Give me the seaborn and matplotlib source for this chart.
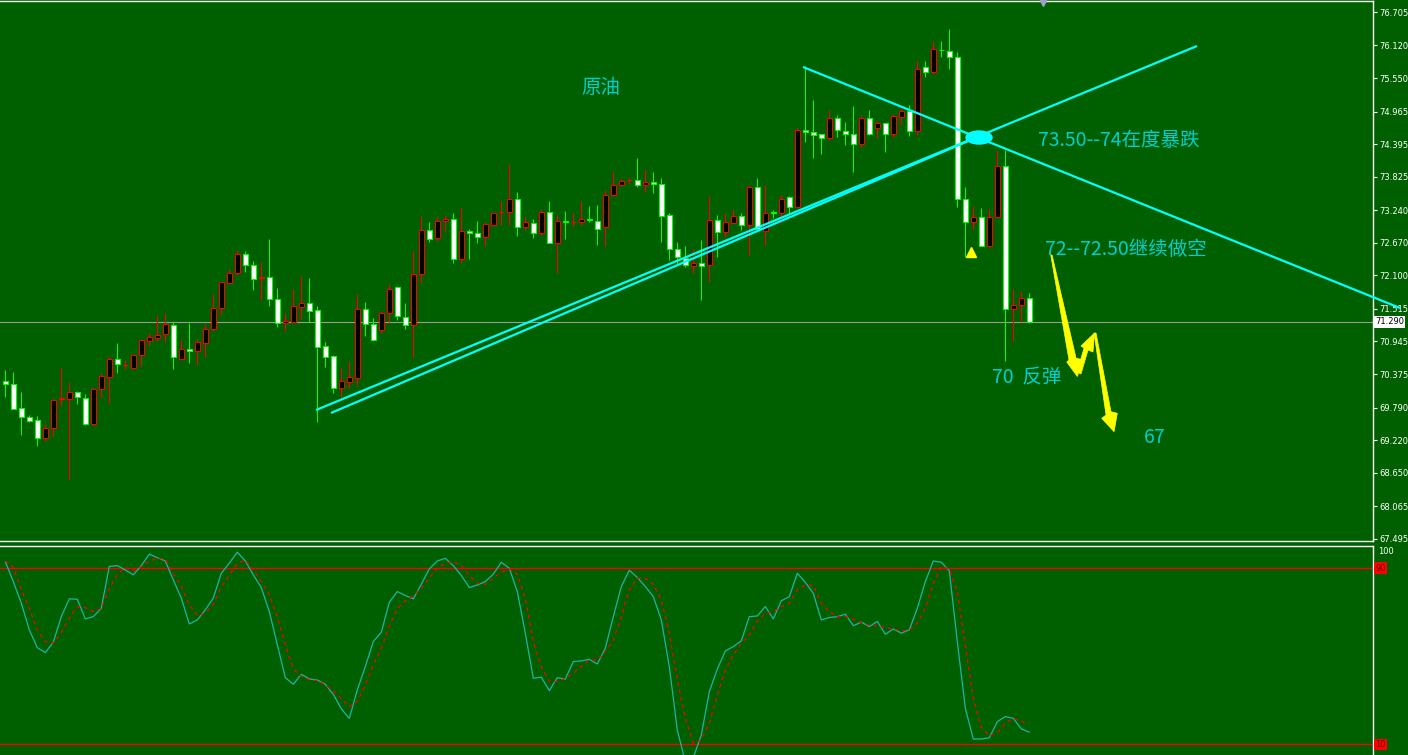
import numpy as np
import pandas as pd
import matplotlib
matplotlib.use("Agg")
import matplotlib.pyplot as plt
import seaborn as sns
from matplotlib.patches import Polygon, Ellipse

sns.set_theme(style="dark")
plt.rcParams["font.family"] = ["Noto Sans CJK SC", "DejaVu Sans"]
plt.rcParams["axes.unicode_minus"] = False

# ---------------- data ----------------
opens = [70.26, 70.21, 69.79, 69.62, 69.57, 69.25, 69.44, 69.94, 69.94, 70.06,
         69.95, 69.50, 70.11, 70.33, 70.64, 70.53, 70.49, 70.70, 70.96, 71.01,
         71.07, 71.23, 70.64, 70.81, 70.77, 70.92, 71.16, 71.53, 71.97, 72.15,
         72.47, 72.28, 72.06, 72.08, 71.68, 71.26, 71.29, 71.55, 71.62, 71.49,
         70.86, 70.69, 70.14, 70.24, 70.31, 71.51, 71.25, 71.14, 71.44, 71.89,
         71.38, 71.23, 72.12, 72.89, 72.75, 73.05, 73.08, 72.39, 72.87, 72.84,
         72.77, 72.99, 73.20, 73.20, 73.43, 72.95, 73.01, 72.84, 73.20, 72.67,
         73.06, 73.03, 73.04, 73.08, 73.06, 72.94, 73.50, 73.68, 73.76, 73.76,
         73.68, 73.73, 73.69, 73.15, 72.56, 72.40, 72.27, 72.32, 72.29, 73.07,
         72.86, 73.02, 73.14, 72.99, 73.64, 72.88, 73.20, 73.19, 73.47, 73.29,
         74.65, 74.61, 74.57, 74.51, 74.86, 74.63, 74.58, 74.39, 74.86, 74.67,
         74.76, 74.57, 74.87, 74.97, 74.63, 75.74, 75.66, 76.045, 76.03, 75.91,
         73.43, 73.03, 73.12, 72.62, 73.13, 74.02, 71.51, 71.58, 71.70]
highs = [70.45, 70.41, 70.06, 69.66, 69.64, 69.50, 69.95, 70.49, 70.24, 70.08,
         70.03, 70.13, 70.39, 70.69, 70.92, 70.62, 70.72, 70.98, 71.09, 71.40,
         71.45, 71.29, 70.99, 71.27, 70.98, 71.25, 71.78, 71.99, 72.22, 72.54,
         72.52, 72.35, 72.33, 72.74, 71.88, 71.44, 71.86, 72.09, 72.05, 71.57,
         70.94, 70.71, 70.50, 70.60, 71.78, 71.64, 71.36, 71.47, 71.95, 71.90,
         71.61, 72.53, 73.14, 73.03, 73.14, 73.15, 73.19, 73.29, 72.91, 73.05,
         73.04, 73.19, 73.40, 74.05, 73.56, 73.14, 73.08, 73.26, 73.40, 73.16,
         73.23, 73.19, 73.40, 73.31, 73.33, 73.59, 73.92, 73.78, 73.82, 74.16,
         73.94, 73.90, 73.80, 73.19, 72.68, 72.61, 72.56, 72.72, 73.49, 73.16,
         73.19, 73.26, 73.19, 73.68, 73.80, 73.68, 73.24, 73.51, 73.48, 74.69,
         75.76, 75.17, 74.58, 74.99, 74.90, 74.79, 75.06, 74.90, 75.00, 74.80,
         74.77, 74.93, 75.02, 75.08, 75.84, 75.84, 76.19, 76.20, 76.41, 76.00,
         73.64, 73.31, 73.27, 73.26, 74.29, 74.30, 71.87, 71.82, 71.79]
lows = [69.98, 69.76, 69.31, 69.53, 69.12, 69.21, 69.29, 69.82, 68.52, 69.86,
        69.49, 69.49, 69.98, 69.87, 70.40, 70.46, 70.48, 70.52, 70.87, 70.95,
        70.94, 70.46, 70.63, 70.57, 70.53, 70.68, 71.12, 71.41, 71.96, 72.11,
        72.16, 71.84, 71.67, 71.57, 71.19, 71.12, 71.26, 71.33, 71.29, 69.53,
        70.50, 70.05, 69.98, 70.13, 70.17, 71.04, 70.96, 71.10, 71.29, 71.32,
        71.16, 70.68, 71.96, 72.69, 72.71, 72.88, 72.32, 72.31, 72.39, 72.66,
        72.62, 72.98, 72.98, 72.98, 72.79, 72.89, 72.75, 72.81, 72.67, 72.14,
        72.74, 72.96, 72.98, 73.04, 72.63, 72.61, 73.48, 73.66, 73.71, 73.65,
        73.56, 73.54, 72.69, 72.37, 72.28, 72.24, 72.14, 71.67, 71.99, 72.43,
        72.78, 73.01, 72.89, 72.46, 72.89, 72.63, 73.10, 73.00, 73.16, 73.27,
        74.44, 74.15, 74.23, 74.47, 74.52, 74.38, 73.91, 74.35, 74.56, 74.51,
        74.26, 74.52, 74.73, 74.54, 74.55, 75.57, 75.63, 75.92, 75.71, 73.29,
        72.43, 72.92, 72.62, 72.59, 73.13, 70.61, 70.96, 71.28, 71.27]
closes = [70.21, 69.77, 69.63, 69.56, 69.26, 69.44, 69.93, 69.95, 70.06, 69.97,
          69.50, 70.11, 70.34, 70.64, 70.55, 70.54, 70.70, 70.97, 71.02, 71.05,
          71.25, 70.67, 70.81, 70.77, 70.93, 71.16, 71.53, 71.98, 72.14, 72.47,
          72.28, 72.04, 72.07, 71.68, 71.26, 71.30, 71.56, 71.61, 71.47, 70.84,
          70.68, 70.14, 70.25, 70.32, 71.51, 71.25, 70.97, 71.44, 71.87, 71.39,
          71.23, 72.12, 72.89, 72.74, 73.05, 73.08, 72.39, 72.87, 72.84, 72.77,
          73.00, 73.19, 73.21, 73.43, 72.95, 73.03, 72.84, 73.20, 72.67, 73.06,
          73.03, 73.04, 73.08, 73.07, 72.92, 73.50, 73.68, 73.75, 73.77, 73.68,
          73.73, 73.69, 73.14, 72.56, 72.43, 72.28, 72.32, 72.27, 73.07, 72.86,
          73.03, 73.14, 72.99, 73.64, 72.92, 73.19, 73.19, 73.44, 73.29, 74.65,
          74.61, 74.55, 74.50, 74.86, 74.64, 74.58, 74.39, 74.86, 74.57, 74.76,
          74.57, 74.89, 74.97, 74.63, 75.70, 75.65, 76.05, 76.035, 75.91, 73.43,
          73.03, 73.12, 72.62, 73.13, 74.02, 71.51, 71.58, 71.70, 71.29]

stoch_k = [93.0, 83.9, 74.1, 62.0, 53.9, 51.7, 56.4, 68.0, 76.1, 75.9,
           67.0, 68.0, 71.8, 90.8, 91.2, 89.2, 87.0, 91.2, 96.4, 94.8,
           93.3, 84.7, 76.4, 64.7, 66.5, 71.1, 76.4, 87.7, 92.3, 97.3,
           93.3, 87.0, 81.2, 70.3, 55.2, 40.3, 37.3, 41.8, 39.7, 39.2,
           37.3, 32.7, 26.1, 21.8, 34.7, 45.3, 56.7, 60.9, 74.5, 79.4,
           77.6, 76.1, 82.7, 89.7, 93.3, 94.5, 91.2, 86.7, 81.2, 82.4,
           83.9, 87.3, 92.7, 90.0, 79.4, 60.5, 40.0, 40.5, 34.4, 40.3,
           39.6, 47.6, 47.9, 48.6, 46.5, 53.6, 68.0, 81.7, 89.1, 85.8,
           81.7, 77.1, 66.5, 45.3, 16.5, 2.0, 4.0, 14.2, 33.9, 44.2,
           52.4, 54.4, 57.0, 68.0, 68.3, 72.6, 67.0, 75.2, 77.1, 87.7,
           83.6, 78.6, 66.5, 67.6, 68.0, 69.1, 63.9, 65.5, 63.5, 65.8,
           60.0, 62.4, 60.5, 62.0, 71.8, 83.9, 93.3, 92.7, 88.8, 56.7,
           26.4, 12.4, 12.4, 13.0, 20.3, 22.6, 21.8, 17.0, 15.5]
stoch_d = [93.3, 90.5, 80.2, 71.8, 62.0, 56.7, 55.9, 60.9, 67.3, 72.6,
           72.1, 70.3, 71.8, 80.9, 87.0, 90.3, 88.8, 90.6, 93.3, 94.5,
           94.2, 87.7, 81.7, 73.3, 68.5, 69.5, 73.6, 81.7, 86.7, 92.3,
           93.8, 89.2, 83.9, 77.9, 68.0, 55.2, 44.2, 40.8, 39.4, 38.9,
           37.0, 34.2, 30.9, 27.1, 29.4, 37.0, 46.1, 53.6, 63.5, 71.8,
           75.2, 77.6, 80.9, 85.5, 90.0, 92.3, 93.0, 91.2, 86.7, 83.2,
           82.7, 85.5, 88.2, 89.7, 87.3, 76.4, 56.7, 45.3, 38.5, 38.5,
           40.0, 42.3, 45.3, 48.3, 48.3, 52.1, 57.4, 68.0, 80.2, 85.5,
           85.5, 82.7, 75.6, 60.5, 39.2, 21.8, 10.5, 12.0, 19.6, 32.4,
           43.8, 50.6, 55.9, 59.7, 66.1, 69.5, 70.3, 72.6, 74.1, 80.2,
           82.4, 82.1, 74.1, 70.3, 68.0, 68.0, 66.8, 65.3, 64.2, 63.8,
           63.0, 62.4, 61.5, 62.0, 65.0, 71.8, 83.2, 90.8, 89.7, 79.4,
           55.2, 30.9, 17.6, 13.9, 15.3, 19.6, 21.8, 20.3, 19.5]

price_ticks = [76.705, 76.120, 75.550, 74.965, 74.395, 73.825, 73.240, 72.670,
               72.100, 71.515, 70.945, 70.375, 69.790, 69.220, 68.650, 68.065, 67.495]
last_price = 71.29
stoch_levels = [90, 10]

# annotation geometry in (bar index, price)
trend_a = ([38.84, 148.96], [69.747, 76.111])
trend_b = ([40.71, 121.84], [69.695, 74.537])
trend_c = ([99.71, 174.34], [75.744, 71.530])
arrow1 = [(130.68, 72.457), (130.84, 72.457), (133.84, 70.656), (134.71, 70.621),
          (134.00, 70.333), (132.68, 70.586), (132.96, 70.621)]
arrow2 = [(133.96, 70.412), (134.46, 70.377), (135.34, 70.796), (135.96, 70.761),
          (136.15, 71.093), (134.46, 70.866), (134.84, 70.831)]
arrow3 = [(136.09, 71.093), (136.34, 71.093), (138.21, 69.717), (139.00, 69.690),
          (138.59, 69.368), (137.05, 69.602), (137.59, 69.660)]
labels = [("原油", 74.46, 75.377, "center"),
          ("73.50--74在度暴跌", 129.1, 74.467, "left"),
          ("72--72.50继续做空", 129.96, 72.562, "left"),
          ("70  反弹", 123.3, 70.307, "left"),
          ("67", 142.3, 69.275, "left")]

# ---------------- figure ----------------
BG = "#006000"
W, H = 1408, 755
fig = plt.figure(figsize=(W / 100, H / 100), dpi=100, facecolor=BG)
axw = 1373 / W
ax = fig.add_axes([0, 1 - 541 / H, axw, 540 / H])
ax2 = fig.add_axes([0, 0, axw, 209 / H])

xlim = (-0.6625, 170.96)
for a in (ax, ax2):
    a.set_facecolor(BG)
    a.grid(False)
    a.set_xlim(*xlim)
    a.set_xticks([])
    for s in ("left",):
        a.spines[s].set_visible(False)
    a.spines["right"].set_color("white")
    a.spines["right"].set_linewidth(1.0)

ax.spines["top"].set_color("white")
ax.spines["bottom"].set_color("white")
ax.spines["top"].set_linewidth(1.0)
ax.spines["bottom"].set_linewidth(1.0)
ax2.spines["top"].set_color("white")
ax2.spines["top"].set_linewidth(1.0)
ax2.spines["bottom"].set_visible(False)

ax.set_ylim(67.457, 76.8975)
ax2.set_ylim(5.14, 100.1)

# candles
df = pd.DataFrame({"o": opens, "h": highs, "l": lows, "c": closes})
df["bar"] = np.arange(len(df))
up = df["c"] >= df["o"]
bh = np.maximum((df["c"] - df["o"]).abs(), 0.004)
bb = np.minimum(df["o"], df["c"])
ax.vlines(df["bar"][up], df["l"][up], df["h"][up], color="#FF0000", lw=0.75, zorder=2)
ax.vlines(df["bar"][~up], df["l"][~up], df["h"][~up], color="#00FF00", lw=0.75, zorder=2)
ax.bar(df["bar"][up], bh[up], bottom=bb[up], width=0.6, color="black",
       edgecolor="#FF0000", linewidth=0.75, zorder=3)
ax.bar(df["bar"][~up], bh[~up], bottom=bb[~up], width=0.6, color="white",
       edgecolor="#00FF00", linewidth=0.75, zorder=3)

# last price line
ax.axhline(last_price, color="#9a9a9a", lw=0.8, zorder=1)

# trend lines
for tl in (trend_a, trend_b):
    ax.plot(tl[0], tl[1], color="#00FFFF", lw=1.6, zorder=4, solid_capstyle="butt")
ax.plot(trend_c[0], trend_c[1], color="#00FFFF", lw=1.6, zorder=4,
        solid_capstyle="butt", clip_on=False)
ax.add_patch(Ellipse((121.71, 74.511), 3.25, 0.227, color="#00FFFF", zorder=5))

# yellow marks
ax.plot([120.71], [72.509], marker="^", color="#FFFF00", ms=7, zorder=5, ls="none")
for poly in (arrow1, arrow2, arrow3):
    ax.add_patch(Polygon(poly, closed=True, facecolor="#FFFF00", edgecolor="#FFFF00",
                         lw=0.5, zorder=6))
ax.plot([129.7], [76.86], marker="v", color="#A0A0C8", ms=5, clip_on=False, ls="none", zorder=7)

# texts
for txt, bx, py, ha in labels:
    ax.text(bx, py, txt, color="#00CED1", fontsize=14, ha=ha, va="center", zorder=8,
            family=["Noto Sans CJK SC", "DejaVu Sans"])

# right price axis
ax.yaxis.tick_right()
ax.set_yticks(price_ticks)
ax.set_yticklabels([f"{t:.3f}" for t in price_ticks])
ax.tick_params(axis="y", colors="white", labelsize=6, length=3, width=0.8, pad=1.5,
               direction="out", labelcolor="white")
for lab in ax.get_yticklabels():
    lab.set_family("DejaVu Sans")
ax.text(1.0015, last_price, "71.290", transform=ax.get_yaxis_transform(), color="black",
        fontsize=6, va="center", ha="left", family="DejaVu Sans", clip_on=False,
        bbox=dict(boxstyle="square,pad=0.15", facecolor="white", edgecolor="none"), zorder=9)

# stochastic panel
bars = np.arange(len(stoch_k))
sns.lineplot(x=bars, y=stoch_k, ax=ax2, color="#20B2AA", linewidth=0.9, zorder=3)
sns.lineplot(x=bars, y=stoch_d, ax=ax2, color="#FF0000", linewidth=0.9, zorder=3)
ax2.lines[-1].set_linestyle((0, (3, 3)))
for lv in stoch_levels:
    ax2.axhline(lv, color="#FF0000", lw=1.0, zorder=2)
    ax2.text(1.0015, lv, str(lv), transform=ax2.get_yaxis_transform(), color="#700000",
             fontsize=6, va="center", ha="left", family="DejaVu Sans", clip_on=False,
             bbox=dict(boxstyle="square,pad=0.15", facecolor="#FF0000", edgecolor="none"))
ax2.text(1.004, 97.8, "100", transform=ax2.get_yaxis_transform(), color="white",
         fontsize=6, va="center", ha="left", family="DejaVu Sans", clip_on=False)
ax2.set_yticks([])
ax2.set_xlabel("")
ax2.set_ylabel("")
ax.set_xlabel("")
ax.set_ylabel("")

fig.savefig("out.png", dpi=100, facecolor=BG)
